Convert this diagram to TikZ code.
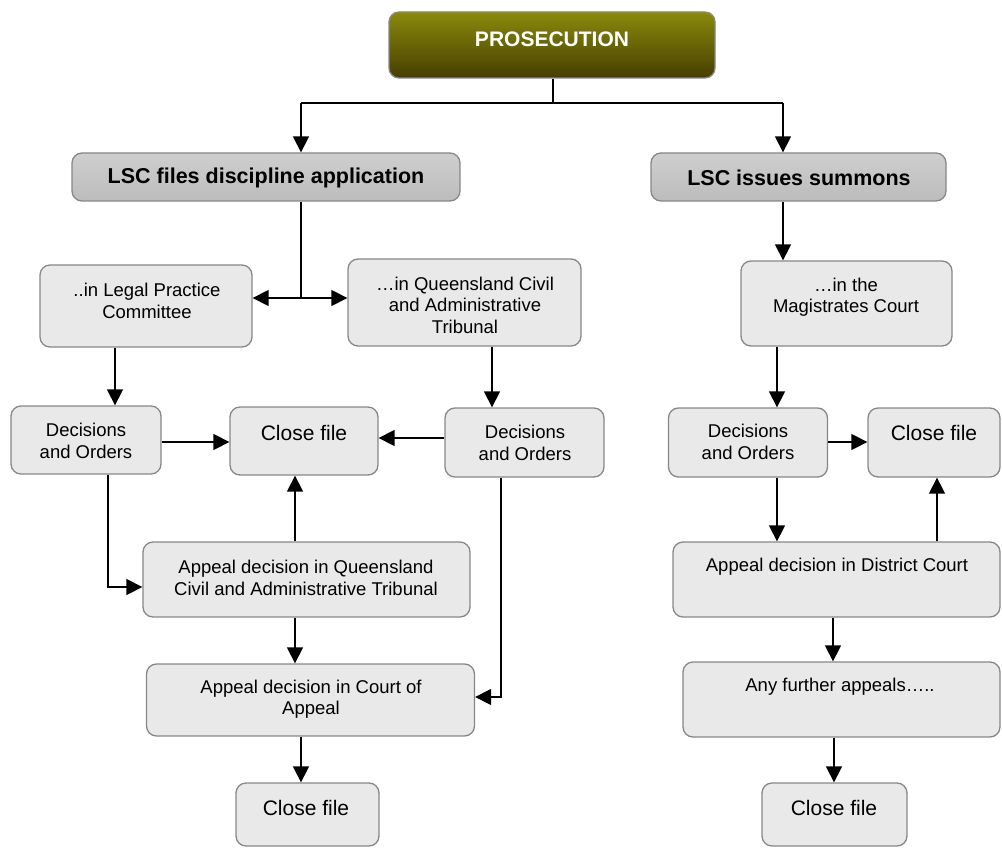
\documentclass[tikz,border=0pt]{standalone}
\usepackage{fontspec}
\setmainfont{Liberation Sans}
\usetikzlibrary{arrows.meta}
\definecolor{boxfill}{RGB}{233,233,233}
\definecolor{boxline}{RGB}{135,135,135}
\definecolor{lscfill}{RGB}{198,198,198}
\definecolor{olivetop}{RGB}{138,138,12}
\definecolor{olivebot}{RGB}{70,62,0}
\tikzset{
  box/.style={draw=boxline, line width=1.3pt, rounded corners=10pt, fill=boxfill, inner sep=0pt},
  lscbox/.style={box, top color=lscfill!85!white, bottom color=lscfill!95!black},
  prosbox/.style={box, top color=olivetop, bottom color=olivebot},
  txt/.style={font=\fontsize{18.5}{21.5}\selectfont, align=center, inner sep=0pt},
  bigtxt/.style={font=\fontsize{21}{24}\selectfont, align=center, inner sep=0pt},
  boldtxt/.style={font=\bfseries\fontsize{21.5}{24}\selectfont, align=center, inner sep=0pt},
  arr/.style={draw=black, line width=1.4pt, -{Triangle[length=16pt,width=16pt]}},
  ln/.style={draw=black, line width=1.4pt}
}
\begin{document}
\begin{tikzpicture}[x=1pt,y=-1pt]
\useasboundingbox (0,0) rectangle (1002,848);
% boxes
\node[prosbox, minimum width=326pt, minimum height=66pt] (pros) at (552,45) {};
\node[lscbox, minimum width=388pt, minimum height=48pt] (lscA) at (266,177) {};
\node[lscbox, minimum width=295pt, minimum height=48pt] (lscB) at (798.5,177) {};
\node[box, minimum width=212pt, minimum height=82pt] (lpc) at (146,306) {};
\node[box, minimum width=233pt, minimum height=87pt] (qcat) at (464.5,302.5) {};
\node[box, minimum width=211pt, minimum height=85pt] (mag) at (846.5,303.5) {};
\node[box, minimum width=150pt, minimum height=68pt] (decL) at (86,440) {};
\node[box, minimum width=148pt, minimum height=68pt] (closeC) at (304,441) {};
\node[box, minimum width=159pt, minimum height=69pt] (decR) at (524.5,442.5) {};
\node[box, minimum width=159pt, minimum height=69pt] (decM) at (748,442.5) {};
\node[box, minimum width=132pt, minimum height=69pt] (closeR) at (934,442.5) {};
\node[box, minimum width=327pt, minimum height=75pt] (appQ) at (306.5,579.5) {};
\node[box, minimum width=327pt, minimum height=75pt] (appD) at (836.5,579.5) {};
\node[box, minimum width=328pt, minimum height=72pt] (appC) at (310.5,700) {};
\node[box, minimum width=317pt, minimum height=75pt] (further) at (841.5,699.5) {};
\node[box, minimum width=143pt, minimum height=63pt] (closeL) at (307.5,814.5) {};
\node[box, minimum width=145pt, minimum height=63pt] (closeB) at (834.5,814.5) {};
% texts
\node[boldtxt, text=white, font=\bfseries\fontsize{21}{24}\selectfont] (prosT) at (552,39) {PROSECUTION};
\node[boldtxt] (lscAT) at (266,178) {LSC files discipline application};
\node[boldtxt] (lscBT) at (799,178) {LSC issues summons};
\node[txt] (lpcT) at (147,301) {..in Legal Practice\\Committee};
\node[txt] (qcatT) at (465,305) {…in Queensland Civil\\and Administrative\\Tribunal};
\node[txt] (magT) at (846,297) {…in the\\Magistrates Court};
\node[txt] (decLT) at (86,441) {Decisions\\and Orders};
\node[bigtxt] (closeCT) at (304,433) {Close file};
\node[txt] (decRT) at (525,443) {Decisions\\and Orders};
\node[txt] (decMT) at (748,442) {Decisions\\and Orders};
\node[bigtxt] (closeRT) at (934,433) {Close file};
\node[txt] (appQT) at (306,578) {Appeal decision in Queensland\\Civil and Administrative Tribunal};
\node[txt] (appDT) at (837,567) {Appeal decision in District Court};
\node[txt] (appCT) at (311,699) {Appeal decision in Court of\\Appeal};
\node[txt] (furtherT) at (840,687) {Any further appeals…..};
\node[bigtxt] (closeLT) at (306,808) {Close file};
\node[bigtxt] (closeBT) at (834,808) {Close file};
% connectors
\coordinate (j) at (553,103);
\coordinate (jl) at (301,103);
\coordinate (jr) at (783,103);
\draw[ln] (553,0 |- pros.south) -- (j);
\draw[ln] (jl) -- (jr);
\draw[arr] (jl) -- (301,0 |- lscA.north);
\draw[arr] (jr) -- (783,0 |- lscB.north);
\coordinate (k) at (301,298);
\draw[ln] (301,0 |- lscA.south) -- (k);
\draw[arr] (k) -- (lpc.east |- k);
\draw[arr] (k) -- (qcat.west |- k);
\draw[arr] (783,0 |- lscB.south) -- (783,0 |- mag.north);
\draw[arr] (115,0 |- lpc.south) -- (115,0 |- decL.north);
\draw[arr] (492,0 |- qcat.south) -- (492,0 |- decR.north);
\draw[arr] (777,0 |- mag.south) -- (777,0 |- decM.north);
\draw[arr] (decL.east |- 0,442) -- (closeC.west |- 0,442);
\draw[arr] (decR.west |- 0,438) -- (closeC.east |- 0,438);
\draw[arr] (decM.east |- 0,442) -- (closeR.west |- 0,442);
\draw[arr] (108,0 |- decL.south) |- (appQ.west |- 0,587);
\draw[arr] (295,0 |- appQ.north) -- (295,0 |- closeC.south);
\draw[arr] (295,0 |- appQ.south) -- (295,0 |- appC.north);
\draw[arr] (501,0 |- decR.south) |- (appC.east |- 0,697);
\draw[arr] (301,0 |- appC.south) -- (301,0 |- closeL.north);
\draw[arr] (777,0 |- decM.south) -- (777,0 |- appD.north);
\draw[arr] (937,0 |- appD.north) -- (937,0 |- closeR.south);
\draw[arr] (833,0 |- appD.south) -- (833,0 |- further.north);
\draw[arr] (834,0 |- further.south) -- (834,0 |- closeB.north);
\end{tikzpicture}
\end{document}
